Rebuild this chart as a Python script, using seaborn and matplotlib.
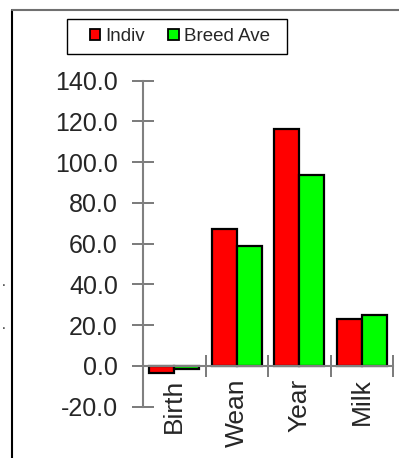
import matplotlib
matplotlib.use("Agg")
import matplotlib.pyplot as plt
from matplotlib.lines import Line2D
from matplotlib.patches import Rectangle
from matplotlib.ticker import FixedLocator
import numpy as np
import pandas as pd
import seaborn as sns

traits = ['Birth', 'Wean', 'Year', 'Milk']
indiv = [-3.7, 67.2, 116.2, 23.2]
breed_ave = [-1.6, 59.1, 93.8, 25.2]
series = ['Indiv', 'Breed Ave']
colors = ['#ff0000', '#00ff00']
yticks = [-20, 0, 20, 40, 60, 80, 100, 120, 140]

df = pd.DataFrame({
    'trait': traits * 2,
    'value': indiv + breed_ave,
    'group': [series[0]] * len(traits) + [series[1]] * len(traits),
})

sns.set_style('white')
plt.rcParams['font.family'] = ['Liberation Sans', 'DejaVu Sans']

W, H = 399, 458
fig = plt.figure(figsize=(W / 100, H / 100), dpi=100)
ax = fig.add_axes([143 / W, 1 - 406.7 / H, 250 / W, 326 / H])

sns.barplot(data=df, x='trait', y='value', hue='group', palette=colors,
            saturation=1, edgecolor='black', linewidth=1.6, width=0.8, ax=ax)

ax.set_xlim(-0.5, 3.5)
ax.set_ylim(-20, 140)
ax.set_xlabel('')
ax.set_ylabel('')

for s in ['top', 'right']:
    ax.spines[s].set_visible(False)
ax.spines['left'].set_color('#808080')
ax.spines['left'].set_linewidth(1.5)
ax.spines['bottom'].set_position(('data', 0))
ax.spines['bottom'].set_color('#808080')
ax.spines['bottom'].set_linewidth(1.5)

ax.set_yticks(yticks)
ax.set_yticklabels([f'{v:.1f}' for v in yticks], fontsize=18)
ax.tick_params(axis='y', direction='inout', length=16, width=1.3,
               color='#707070', pad=10, left=True)

ax.set_xticks(range(len(traits)))
ax.set_xticklabels(traits, rotation=90, fontsize=19, va='top')
ax.tick_params(axis='x', which='major', length=0, pad=9)
ax.xaxis.set_minor_locator(FixedLocator([0.5, 1.5, 2.5, 3.5]))
ax.tick_params(axis='x', which='minor', direction='inout', length=16,
               width=1.3, color='#707070', bottom=True)

handles = [plt.Rectangle((0, 0), 1, 1, facecolor=c, edgecolor='black', linewidth=1.3)
           for c in colors]
ax.legend(handles, series, loc='center left', bbox_to_anchor=(90 / W, 1 - 36.5 / H),
          bbox_transform=fig.transFigure, ncol=2, fontsize=13.5, frameon=False,
          handlelength=0.55, handleheight=0.55, handletextpad=0.27,
          columnspacing=1.25, borderpad=0, borderaxespad=0)

# legend box and outer frame of the chart area
fig.add_artist(Rectangle((67 / W, 1 - 54 / H), 220 / W, 35 / H, fill=False,
                         edgecolor='black', linewidth=1.0, transform=fig.transFigure))
fig.add_artist(Line2D([12 / W, 12 / W], [0, 1 - 10 / H], color='black',
                      linewidth=1.5, transform=fig.transFigure))
fig.add_artist(Line2D([12 / W, 1], [1 - 10 / H, 1 - 10 / H], color='#707070',
                      linewidth=1.5, transform=fig.transFigure))
fig.text(4 / W, 1 - 286 / H, '.', fontsize=10, ha='center', va='baseline')
fig.text(4 / W, 1 - 329 / H, '.', fontsize=10, ha='center', va='baseline')

fig.savefig('out.png', dpi=100)
